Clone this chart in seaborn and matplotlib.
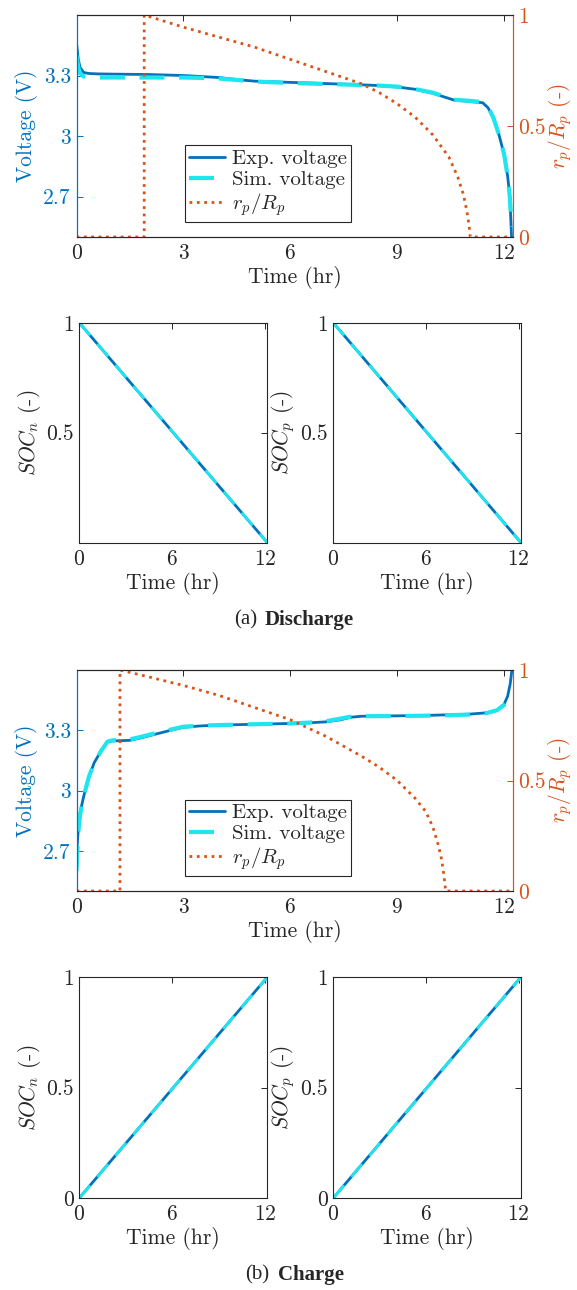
import matplotlib
matplotlib.use("Agg")
import matplotlib.pyplot as plt
import seaborn as sns

# ---- discharge ----
t_dis = [0, 0.05, 0.1, 0.2, 0.35, 0.6, 1, 2, 3, 3.5, 4, 4.5, 5, 6, 7, 8, 8.5, 9,
         9.5, 10, 10.3, 10.6, 11, 11.4, 11.55, 11.7, 11.85, 12.0, 12.1, 12.16, 12.21]
v_exp_dis = [3.46, 3.38, 3.34, 3.315, 3.31, 3.308, 3.307, 3.305, 3.300, 3.295, 3.29,
             3.28, 3.272, 3.266, 3.260, 3.254, 3.25, 3.243, 3.232, 3.212, 3.195, 3.178,
             3.172, 3.165, 3.14, 3.09, 3.01, 2.91, 2.80, 2.70, 2.5]
v_sim_dis = [3.40, 3.34, 3.31, 3.295, 3.29, 3.29, 3.29, 3.29, 3.29, 3.288, 3.285,
             3.278, 3.27, 3.263, 3.258, 3.253, 3.25, 3.245, 3.233, 3.215, 3.197, 3.18,
             3.175, 3.168, 3.145, 3.09, 3.01, 2.91, 2.80, 2.70, 2.55]
t_rp_dis = [0, 1.9, 1.9, 2.5, 3, 4, 5, 6, 7, 8, 8.5, 9, 9.5, 10, 10.45, 10.7, 10.86,
            10.95, 11.02, 11.05, 12.2]
rp_dis = [0, 0, 1, 0.97, 0.945, 0.90, 0.855, 0.80, 0.745, 0.69, 0.65, 0.60, 0.54,
          0.46, 0.36, 0.27, 0.19, 0.12, 0.05, 0, 0]
t_soc_dis = [0, 12.15]
socn_dis = [1, 0]
socp_dis = [1, 0]

# ---- charge ----
t_ch = [0, 0.03, 0.06, 0.1, 0.2, 0.35, 0.5, 0.7, 0.87, 1.0, 1.5, 1.8, 2.2, 2.6, 3.0,
        3.5, 4, 5, 6, 6.5, 7, 7.4, 7.7, 8, 9, 10, 11, 11.5, 11.8, 12.0, 12.1, 12.17, 12.22]
v_exp_ch = [2.66, 2.76, 2.83, 2.89, 2.97, 3.07, 3.14, 3.2, 3.245, 3.247, 3.25, 3.262,
            3.28, 3.298, 3.315, 3.322, 3.326, 3.330, 3.334, 3.337, 3.342, 3.352, 3.365,
            3.37, 3.372, 3.375, 3.38, 3.387, 3.40, 3.43, 3.47, 3.53, 3.60]
t_sim_ch = [0, 0.03, 0.06, 0.1, 0.2, 0.35, 0.5, 0.7, 0.87, 1.0, 1.5, 1.8, 2.2, 2.6,
            3.0, 3.5, 4, 5, 6, 6.5, 7, 7.4, 7.7, 8, 9, 10, 11, 11.5, 11.8, 12.03]
v_sim_ch = [2.60, 2.72, 2.81, 2.88, 2.97, 3.07, 3.14, 3.2, 3.243, 3.25, 3.255, 3.267,
            3.285, 3.302, 3.318, 3.323, 3.326, 3.330, 3.334, 3.338, 3.345, 3.358, 3.368,
            3.37, 3.371, 3.373, 3.378, 3.385, 3.40, 3.43]
t_rp_ch = [0, 1.22, 1.22, 2, 3, 4, 5, 6, 7, 8, 8.5, 9, 9.5, 9.8, 10.0, 10.15, 10.25,
           10.32, 10.36, 12.2]
rp_ch = [0, 0, 1, 0.97, 0.93, 0.885, 0.83, 0.775, 0.70, 0.61, 0.56, 0.50, 0.42, 0.36,
         0.29, 0.21, 0.14, 0.06, 0, 0]
t_soc_ch = [0, 12.15]
socn_ch = [0, 1]
socp_ch = [0, 1]

BLUE = "#0072BD"
CYAN = "#1FE6EE"
ORANGE = "#D95319"
GRAY = "#262626"
FS = 15.5

sns.set_theme(style="white")
plt.rcParams.update({
    "font.family": ["cmr10", "DejaVu Serif"],
    "mathtext.fontset": "cm",
    "axes.formatter.use_mathtext": True,
    "font.size": FS,
    "axes.labelsize": FS,
    "xtick.labelsize": FS,
    "ytick.labelsize": FS,
    "axes.edgecolor": GRAY,
    "axes.linewidth": 0.8,
    "xtick.direction": "in",
    "ytick.direction": "in",
    "xtick.major.size": 4,
    "ytick.major.size": 4,
    "xtick.major.width": 0.7,
    "ytick.major.width": 0.7,
    "xtick.major.pad": 5,
    "ytick.major.pad": 4,
})

fig = plt.figure(figsize=(5.77, 12.9), dpi=100)


def voltage_panel(rect, t, v_exp, ts, v_sim, t_rp, rp):
    ax = fig.add_axes(rect)
    sns.lineplot(x=t, y=v_exp, ax=ax, color=BLUE, lw=2.0, sort=False,
                 estimator=None, label="Exp. voltage")
    sns.lineplot(x=ts, y=v_sim, ax=ax, color=CYAN, lw=3.0, sort=False,
                 estimator=None, label="Sim. voltage")
    ax.lines[1].set_dashes([6, 3.5])
    ax.set_xlim(0, 12.25)
    ax.set_ylim(2.5, 3.6)
    ax.set_xticks([0, 3, 6, 9, 12])
    ax.set_yticks([2.7, 3, 3.3])
    ax.set_yticklabels(["2.7", "3", "3.3"])
    ax.set_xlabel("Time (hr)", color=GRAY, labelpad=2)
    ax.set_ylabel("Voltage (V)", color=BLUE, labelpad=4)
    ax.tick_params(axis="x", top=True, colors=GRAY)
    ax.tick_params(axis="y", left=True, right=False, colors=BLUE)
    ax.spines["left"].set_color(BLUE)

    ax2 = ax.twinx()
    sns.lineplot(x=t_rp, y=rp, ax=ax2, color=ORANGE, lw=2.0, sort=False,
                 estimator=None, label=r"$r_p/R_p$")
    ax2.lines[0].set_linestyle(":")
    ax2.set_ylim(0, 1)
    ax2.set_yticks([0, 0.5, 1])
    ax2.set_yticklabels(["0", "0.5", "1"])
    ax2.set_ylabel(r"$r_p/R_p$ (-)", color=ORANGE, labelpad=0)
    ax2.tick_params(axis="y", right=True, colors=ORANGE)
    ax2.spines["right"].set_color(ORANGE)
    ax2.spines["left"].set_color(BLUE)
    ax.spines["right"].set_color(ORANGE)

    h1, l1 = ax.get_legend_handles_labels()
    h2, l2 = ax2.get_legend_handles_labels()
    ax.get_legend().remove()
    ax2.get_legend().remove()
    leg = ax2.legend(h1 + h2, l1 + l2, loc="lower left",
                     bbox_to_anchor=(0.248, 0.068), fancybox=False,
                     edgecolor=GRAY, framealpha=1, handlelength=1.75,
                     borderpad=0.2, labelspacing=0.1, handletextpad=0.3,
                     borderaxespad=0, fontsize=FS - 0.5)
    leg.get_frame().set_linewidth(0.8)
    return ax


def soc_panel(rect, t, soc_exp, soc_sim, label, yticks):
    ax = fig.add_axes(rect)
    sns.lineplot(x=t, y=soc_exp, ax=ax, color=BLUE, lw=2.0, sort=False,
                 estimator=None)
    sns.lineplot(x=t, y=soc_sim, ax=ax, color=CYAN, lw=2.0, sort=False,
                 estimator=None)
    ax.lines[1].set_dashes([6, 4])
    ax.set_xlim(0, 12.15)
    ax.set_ylim(0, 1)
    ax.set_xticks([0, 6, 12])
    ax.set_yticks(yticks)
    ax.set_yticklabels([f"{v:g}" for v in yticks])
    ax.set_xlabel("Time (hr)", color=GRAY, labelpad=2)
    ax.set_ylabel(label + " (-)", color=GRAY, labelpad=2)
    ax.tick_params(top=True, right=True, colors=GRAY)
    return ax


def caption(y, tag, word, xr, xl):
    fig.text(xr / 577, y, tag, ha="right", va="center", family="Liberation Serif",
             fontsize=15)
    fig.text(xl / 577, y, word, ha="left", va="center", family="Liberation Serif",
             fontsize=15, weight="bold")


# (a) discharge
voltage_panel([0.1326, 0.8163, 0.7565, 0.1721], t_dis, v_exp_dis, t_dis, v_sim_dis,
              t_rp_dis, rp_dis)
soc_panel([0.1374, 0.5793, 0.326, 0.1705], t_soc_dis, socn_dis, socn_dis,
          r"$SOC_n$", [0.5, 1])
soc_panel([0.5776, 0.5793, 0.3253, 0.1705], t_soc_dis, socp_dis, socp_dis,
          r"$SOC_p$", [0.5, 1])
caption(1 - 620 / 1290, "(a)", "Discharge", 257, 265)

# (b) charge
voltage_panel([0.1326, 0.3093, 0.7565, 0.1713], t_ch, v_exp_ch, t_sim_ch, v_sim_ch,
              t_rp_ch, rp_ch)
soc_panel([0.1374, 0.0713, 0.326, 0.1713], t_soc_ch, socn_ch, socn_ch,
          r"$SOC_n$", [0, 0.5, 1])
soc_panel([0.5776, 0.0713, 0.3253, 0.1713], t_soc_ch, socp_ch, socp_ch,
          r"$SOC_p$", [0, 0.5, 1])
caption(1 - 1275 / 1290, "(b)", "Charge", 269, 278)

fig.savefig("out.png", dpi=100)
